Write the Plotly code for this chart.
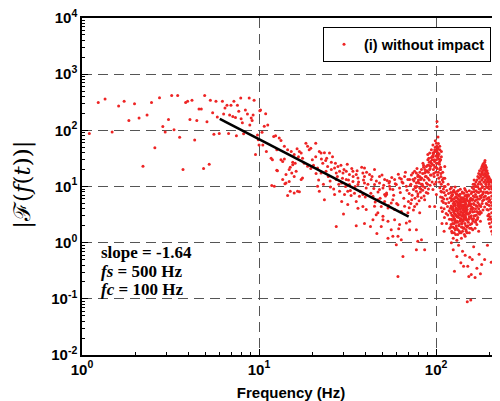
import plotly.graph_objects as go

# ---- data (frequency in Hz, magnitude) ----
band_1_10 = [(1.10,88),(1.235,314),(1.35,360),(1.48,93),(1.61,270),(1.73,330),(1.84,150),(1.98,297),
             (2.10,166),(2.21,23),(2.33,187),(2.47,314),(2.58,49),(2.74,380),(2.86,117),(2.95,93),
             (3.08,156),(3.21,415),(3.31,102),(3.47,415),(3.56,75),(3.72,20),(3.85,314),(3.95,330),
             (4.18,344),(4.07,156),(4.33,67),(4.45,150),(4.58,240),(4.72,240),(4.86,21),(4.93,415),
             (5.08,142),(5.23,25),(5.31,344),(5.47,205),(5.56,85),(5.71,330),(5.81,172),(5.96,88),
             (6.21,330),(6.31,195),(6.42,250),(6.59,280),(6.73,88),(6.82,187),(6.94,280),(7.11,177),
             (7.21,330),(7.36,170),(7.45,80),(7.55,280),(7.68,218),(7.88,375),(7.92,160),(8.05,137),
             (8.18,87),(8.37,230),(8.6,195),(8.8,375),(8.87,124),(9.03,166),(9.14,150),(9.26,187),
             (9.38,344),(9.55,37),(9.8,83),(10.0,55),(10.2,230)]

band_10_20 = [(10.1,223),(10.9,197),(10.7,118),(11.2,124),(10.4,92),(12.1,78),(12.4,80),(13.0,73),
              (13.3,66),(11.7,32),(11.9,30),(12.6,45),(13.3,30),(13.6,28),(13.9,31),(12.7,19),
              (14.2,11.5),(14.0,11.2),(14.8,12.3),(14.5,6.9),(11.8,10.4),(12.2,10.1),(15.0,22),
              (15.5,24.5),(16.0,26),(16.4,47),(16.9,42),(17.3,39.5),(17.6,32),(16.7,34),(18.4,59),
              (18.8,52),(19.2,45),(19.6,48),(18.0,26),(18.8,23),(19.6,21),(16.2,18.6),(17.6,14.1),
              (16.9,8.1),(14.8,20),(15.3,17.4),(15.8,15.1),(17.3,13.3),(10.5,55),(11.0,42),(9.9,68),
              (13.9,52),(14.5,45),(15.2,42),(15.8,37),(15.5,27),(14.2,16.3),(13.6,13.3),(12.6,19.4),
              (15.0,8.2),(15.8,7.7),(16.5,8.2)]

band_20_40 = [(20.9,59),(21.9,42),(22.4,39.5),(23.4,40),(25.0,39.5),(24.1,32),(25.6,27),(22.9,26),
              (21.4,21.3),(22.4,17.4),(23.9,18.6),(25.6,20),(26.7,21.3),(27.9,22.8),(28.5,18.6),
              (27.3,17.4),(29.8,17.4),(31.1,18.6),(32.4,16.3),(33.9,18.6),(35.4,16.3),(36.2,14.2),
              (38.6,17.4),(39.4,15.1),(27.3,13.3),(29.3,11.5),(31.1,13.3),(32.4,10.8),(33.9,12.3),
              (36.2,10.8),(39.4,11.5),(40.3,9.4),(28.5,8.2),(26.7,7.2),(30.4,7.2),(31.7,8.2),
              (33.1,6.9),(34.6,7.6),(36.9,6.7),(38.6,7.2),(29.3,5.4),(31.7,4.8),(35.4,5.4),(36.2,4.1),
              (38.6,4.4),(40.3,3.9),(30.0,3.25),(27.3,1.95),(35.4,2.0),(39.4,2.2),(25.3,9.8),
              (21.9,8.2),(23.4,5.8),(21.4,10.1),(24.4,22.8),(20.9,34),(20.0,30),
              (20.3,24),(21.0,17),(21.7,13),(22.5,31),(23.1,11),(23.8,29),(24.6,15),(25.2,12.5),
              (26.0,34),(26.4,9),(27.0,26),(27.7,15),(28.2,11),(29.0,24),(29.6,14),(30.2,20),
              (30.8,10),(31.5,25),(32.0,13),(32.8,8.5),(33.4,21),(34.0,15),(34.9,10),(35.8,19),
              (36.5,12),(37.3,8.2),(38.0,22),(38.9,13),(39.8,6.5)]

band_40_70 = [(43.0,13.3),(44.9,10.8),(47.9,11.5),(50.1,9.4),(52.5,7.7),(54.6,10.1),(57.0,8.8),
              (59.6,10.8),(62.2,9.4),(65.0,11.5),(67.9,10.1),(70.9,13.3),(58.3,13.3),(54.6,12.3),
              (63.6,13.6),(44.0,6.7),(46.9,5.8),(49.0,4.4),(51.2,5.4),(53.5,4.15),(55.8,5.1),
              (58.3,3.9),(60.9,4.75),(63.6,3.6),(66.4,4.45),(69.3,3.4),(45.9,3.15),(50.1,2.95),
              (53.5,2.4),(58.3,2.57),(62.2,2.1),(67.9,2.25),(70.9,2.4),(44.0,2.57),(49.0,1.95),
              (55.8,1.7),(60.9,1.3),(63.6,1.13),(65.0,0.57),(59.6,0.92),(70.9,1.7),(60.9,0.25),
              (52.5,7.2),(44.9,4.45),(47.9,8.8),(51.2,7.2),(57.0,5.8),(46.9,3.4),(50.1,2.57),
              (57.0,1.3),(46.3,1.45),(53.5,1.2),(42.6,1.95),(61.5,1.77),(39.4,21.3),(42.1,16.3),
              (44.9,20),(47.9,15.1),(51.2,13.3),(54.2,11.5),(62.2,14.2),(66.4,15.1),(69.3,13.3),
              (40.5,18),(41.2,11),(42.8,7.6),(43.5,15),(44.5,9.2),(45.3,5.3),(46.0,12.5),(47.0,8.0),
              (48.3,6.2),(49.5,16),(50.6,10.5),(51.8,6.8),(52.9,12.8),(53.9,4.6),(55.0,9.0),
              (56.2,14.5),(57.6,7.0),(58.8,11.2),(59.9,5.0),(61.2,16.5),(62.8,7.8),(64.2,12.0),
              (65.7,6.2),(67.1,18),(68.5,8.6),(69.8,5.4)]

band_70_105 = [(73.9,17.4),(77.4,1.7),(78.8,1.06),(82.7,1.13),(77.4,0.75),(86.2,0.75),(75.6,18.6),
               (78.8,15.1),(77.4,11.5),(81.9,13.3),(74.0,13.3),(77.4,17.4),(80.8,15.1),(82.7,20),
               (84.3,26),(86.2,17.4),(88.1,22.8),(89.8,30),(92.0,39.5),(94.1,26),(96.0,34),(98.2,45),
               (100.4,30),(102.5,39.5),(104.8,52),(94.1,45),(96.0,55),(100.4,59),(102.5,26),(92.0,20),
               (88.1,11.5),(84.3,10.1),(80.8,9.4),(77.4,8.2),(89.8,7.6),(96.0,8.8),(100.4,7.2),
               (78.8,6.7),(86.2,5.8),(92.0,4.4),(75.6,4.4),(72.8,5.8),(80.8,3.4),(98.2,4.4),
               (102.5,76),(101.2,144),(101.2,117),(89.8,37),(96.0,39.5),(102.5,48.5),(104.8,28),
               (97,40),(99,50),(101,42),(103,35),(105,45),(98,28),(100,22),(102,33),(104,38),
               (99,65),(101,52),(103,58),(95,30),(97,24),(93,28),(91,24),(87,18),(85,22),(83,14),
               (79,12),(76,10),(82,9),(90,14),(93,16),(97,17),(100,12),(103,18),(98,11),
               (71.5,10.5),(72.5,16),(73.2,7),(75.0,12.5),(76.5,9.5),(78.0,21),(79.5,13),(81.0,18),
               (83.5,11),(85.0,24),(87.0,15),(89.0,19),(91.0,32),(93.0,23),(95.5,35)]

# frequency, then magnitudes read at that frequency
band_70_110_more = [(70.5,[7.5,4.2]),(72,[11,5.0]),(74.5,[8.8,3.8]),(76,[14,6.2]),(77.8,[10,4.9]),
                    (79,[16,7.4]),(80.2,[11.5,5.6]),(81.5,[8,14.5]),(82.5,[6.3,11]),(84,[17,8.6]),
                    (85.5,[13,6.8]),(86.5,[20,9.5]),(88,[15,7.8]),(89.5,[24,11]),(90.5,[18,9]),
                    (91.5,[27,13]),(92.5,[21,10.5]),(94,[33,16]),(95,[25,12]),(96.5,[38,20]),
                    (97.5,[30,15]),(98.5,[42,22]),(99.5,[35,18]),(100.5,[44,26]),(101.5,[36,21]),
                    (102,[46,16]),(103.5,[31,14]),(104.5,[25,12]),(105,[20,9.5]),(106.5,[17,8.2]),
                    (108.5,[13,6.4]),(110,[14,5.2]),(111,[10,7.8])]

band_105_120 = [(105.5,30),(106,22),(106.5,15),(107,11),(107.5,8),(108,5.5),(108.5,3.6),(106,6.5),
                (107,4.2),(109,18),(109.5,12),(110,9),(110.5,6),(111,4),(111.5,2.8),(112,14),
                (112.5,10),(113,7),(113.5,5),(114,3.3),(114.5,2.2),(115,8.5),(115.5,6),(116,4.4),
                (116.5,3.1),(117,11),(117.5,7.5),(118,5.2),(118.5,3.7),(119,2.6),(119.5,1.8),
                (108,2.2),(111,1.6),(120,9),(120,6.3),(120.5,4.1),(107.1,34),(107.1,42),(111.9,22.8),
                (106,20),(106,30)]

band_120_165 = [(121,[7.8,3.4,1.9]),(122,[5.6,2.6,9.5]),(123,[4.3,1.5,6.8]),(124,[3.0,7.2,2.2]),
                (125,[5.0,1.2,3.8]),(126,[8.6,2.7,4.6]),(127,[3.3,6.1,1.8]),(128,[2.4,4.9,9.8]),
                (129,[6.6,3.1,1.4]),(130,[4.0,2.0,7.4]),(131,[5.4,2.9,1.1]),(132,[3.6,8.2,2.3]),
                (133,[4.6,1.7,6.0]),(134,[2.8,5.1,3.9]),(135,[7.0,2.1,4.3]),(136,[3.2,1.5,5.8]),
                (137,[4.9,2.5,8.9]),(138,[2.7,6.4,3.5]),(139,[4.1,1.9,1.2]),(140,[5.9,3.0,2.2]),
                (141,[3.4,7.7,1.6]),(142,[4.4,2.4,5.3]),(143,[2.9,6.2,3.8]),(144,[1.8,4.7,3.1]),
                (145,[5.5,2.6,9.2]),(146,[3.7,1.3,4.8]),(147,[6.9,2.8,2.0]),(148,[4.2,3.3,1.6]),
                (149,[2.5,5.7,8.0]),(150,[3.9,1.9,6.5]),(152,[4.5,2.3,7.1,3.2]),
                (154,[5.2,2.9,1.5,8.4]),(156,[3.6,6.0,2.1,4.6]),(158,[7.5,3.0,4.9,1.8]),
                (160,[5.7,2.6,9.6,3.9]),(162,[6.8,4.1,2.4,11]),(164,[8.1,4.8,3.0,13])]

band_165_230 = [(166,[10,5.5,3.0,1.8]),(168,[8.4,4.6,2.5,12]),(170,[13,6.6,3.6,2.1]),
                (172,[9.8,5.2,2.8,15]),(174,[7.8,4.0,17,1.6]),(176,[12,6.0,3.2,19]),
                (178,[16,9.0,4.5,2.4]),(180,[21,11,6.4,3.4]),(182,[18,9.6,5.0,23]),
                (184,[25,14,7.4,3.8]),(186,[20,12,26,5.8]),(188,[27,17,9.0,4.3]),
                (190,[24,19,13,6.8]),(192,[22,16,10,5.0]),(194,[19,14,8.0,3.9]),
                (196,[17,12,6.2,3.0]),(198,[15,10,5.4,2.6]),(200,[14,9.0,4.6,2.2]),
                (203,[13,7.8,4.0,1.9]),(206,[12,6.8,3.4,1.6]),(209,[11,6.0,2.9,1.4]),
                (212,[10,5.3,2.5]),(215,[9.5,4.8,2.2]),(218,[10.5,4.2,1.9]),(221,[9,3.7,1.7]),
                (224,[8,3.3,1.5]),(227,[9.5,4.0,2.0])]

band_120_230_more = [(121.5,[4.5,2.1,6.2]),(122.5,[3.1,7.0,1.6]),(123.5,[5.8,2.5,3.9]),
                     (124.5,[4.2,1.9,8.1]),(125.5,[2.9,6.0,3.5]),(126.5,[5.3,2.2,1.5]),
                     (127.5,[3.7,7.9,2.6]),(128.5,[4.6,1.7,3.2]),(129.5,[2.3,5.5,4.1]),
                     (130.5,[6.4,3.0,1.8]),(131.5,[3.9,2.4,7.2]),(132.5,[5.0,1.4,2.9]),
                     (133.5,[3.3,8.5,4.4]),(134.5,[2.0,4.8,6.7]),(135.5,[5.6,3.1,1.6]),
                     (136.5,[4.0,7.3,2.4]),(137.5,[2.6,3.6,5.2]),(138.5,[6.0,1.5,4.5]),
                     (139.5,[3.0,5.4,2.2]),(140.5,[4.7,8.0,1.9]),(141.5,[2.5,3.8,6.3]),
                     (142.5,[5.9,1.8,3.2]),(143.5,[4.1,2.7,7.6]),(144.5,[3.5,5.8,1.4]),
                     (145.5,[2.2,4.3,6.8]),(146.5,[5.2,3.0,8.6]),(147.5,[3.8,1.7,4.9]),
                     (148.5,[6.1,2.6,3.6]),(149.5,[4.4,1.5,7.0]),(151,[3.3,5.6,2.0]),
                     (153,[4.8,2.6,6.9]),(155,[3.4,1.8,5.6]),(157,[6.2,2.8,4.0]),
                     (159,[4.3,8.0,2.2]),(161,[3.5,5.9,1.7]),(163,[5.0,9.0,2.7]),
                     (165,[6.5,3.6,11]),(167,[7.2,4.0,2.3]),(169,[5.8,10,3.1]),
                     (171,[8.0,4.4,2.6]),(173,[11,6.0,3.4]),(175,[9.0,14,4.8]),
                     (177,[12,6.8,3.6]),(179,[15,8.2,4.4]),(181,[13,7.0,17]),
                     (183,[19,10,5.6]),(185,[16,22,8.0]),(187,[23,12,6.5]),
                     (189,[20,15,29]),(191,[21,11,7.8]),(193,[18,12,6.0]),
                     (195,[15,9.5,4.8]),(197,[13,7.6,3.8]),(199,[11,6.4,3.2]),
                     (201,[12,5.8,2.9]),(204,[10,5.2,2.6]),(207,[9.0,4.6,2.3]),
                     (210,[8.5,4.1,2.0]),(213,[7.8,3.6,1.8]),(216,[8.2,3.2,1.6]),
                     (219,[7.4,2.9,5.5]),(222,[6.8,2.6,4.8]),(225,[7.0,2.4,4.5]),
                     (228,[7.6,3.0,5.2])]

low_outliers = [(122,1.0),(125,0.75),(127,0.31),(131,0.57),(134,0.9),(138,0.44),(141,0.7),
                (143,0.38),(146,0.6),(150,0.089),(151,0.38),(153,0.25),(155,0.55),(157,0.095),
                (158,0.27),(160,0.5),(163,0.85),(166,0.24),(170,0.35),(175,0.62),(178,0.28),
                (181,0.41),(188,0.5),(195,0.9),(205,0.45),(215,0.75)]

fit_x = [6.0, 70.0]
fit_y = [160.0, 2.9]

x_tick_vals = [1, 10, 100]
x_tick_text = ["<b>10<sup>0</sup></b>", "<b>10<sup>1</sup></b>", "<b>10<sup>2</sup></b>"]
y_tick_vals = [0.01, 0.1, 1, 10, 100, 1000, 10000]
y_tick_text = ["<b>10<sup>-2</sup></b>", "<b>10<sup>-1</sup></b>", "<b>10<sup>0</sup></b>",
               "<b>10<sup>1</sup></b>", "<b>10<sup>2</sup></b>", "<b>10<sup>3</sup></b>",
               "<b>10<sup>4</sup></b>"]

# ---- assemble ----
fx, fy = [], []
for band in (band_1_10, band_10_20, band_20_40, band_40_70, band_70_105, band_105_120, low_outliers):
    for f, m in band:
        fx.append(f); fy.append(m)
for band in (band_70_110_more, band_120_165, band_165_230, band_120_230_more):
    for f, ms in band:
        for m in ms:
            fx.append(f); fy.append(m)

minor_x = [v * d for d in (1, 10, 100) for v in range(2, 10)]
minor_y = [v * d for d in (0.01, 0.1, 1, 10, 100, 1000) for v in range(2, 10)]

SANS = "Liberation Sans, Arial, sans-serif"
SERIF = "Liberation Serif, Times New Roman, serif"
RED = "#ee2424"

fig = go.Figure()
fig.add_trace(go.Scatter(x=fx, y=fy, mode="markers", name="<b>(i) without impact</b>",
                         marker=dict(color=RED, size=3, symbol="circle", line=dict(width=0))))
fig.add_trace(go.Scatter(x=fit_x, y=fit_y, mode="lines", showlegend=False,
                         line=dict(color="black", width=2.6)))

axis_common = dict(type="log", showline=True, linecolor="black", linewidth=1.5,
                   ticks="inside", ticklen=6, tickwidth=1, tickcolor="black",
                   showgrid=True, gridcolor="#555555", gridwidth=1, griddash="10px,6px",
                   zeroline=False, automargin=False, ticklabeloverflow="allow",
                   tickfont=dict(family=SANS, size=15, color="black"))

fig.update_xaxes(**axis_common, range=[0, 2.361], tickvals=x_tick_vals, ticktext=x_tick_text,
                 mirror=True,
                 minor=dict(tickvals=minor_x, ticks="inside", ticklen=3, tickcolor="black",
                            showgrid=False),
                 title=dict(text="<b>Frequency (Hz)</b>", font=dict(family=SANS, size=15, color="black"),
                            standoff=11))
fig.update_yaxes(**axis_common, range=[-2, 4], tickvals=y_tick_vals, ticktext=y_tick_text,
                 mirror=False,
                 minor=dict(tickvals=minor_y, ticks="inside", ticklen=3, tickcolor="black",
                            showgrid=False))

annos = [
    dict(text="<b>slope = -1.64</b>", y=0.3027),
    dict(text="<b><i>fs</i> = 500 Hz</b>", y=0.2463),
    dict(text="<b><i>fc</i> = 100 Hz</b>", y=0.193),
]
for a in annos:
    fig.add_annotation(xref="paper", yref="paper", x=0.040, y=a["y"], text=a["text"],
                       showarrow=False, xanchor="left", yanchor="middle",
                       font=dict(family=SERIF, size=17, color="black"))

fig.add_annotation(xref="paper", yref="paper", x=-0.142, y=0.504, textangle=-90,
                   text="|ℱ(<i>f</i>(<i>t</i>))|", showarrow=False,
                   xanchor="center", yanchor="middle",
                   font=dict(family="DejaVu Serif, serif", size=23, color="black"))

# the page body adds an 8px offset, so the figure is 8px smaller and the margins compensate
fig.update_layout(
    width=492, height=393,
    margin=dict(l=74, r=0, t=10, b=46, autoexpand=False),
    paper_bgcolor="white", plot_bgcolor="white",
    showlegend=True,
    legend=dict(x=0.978, y=0.973, xanchor="right", yanchor="top",
                bordercolor="black", borderwidth=1.2, bgcolor="white",
                font=dict(family=SANS, size=14.5, color="black")),
)

fig.write_html("out.html")
